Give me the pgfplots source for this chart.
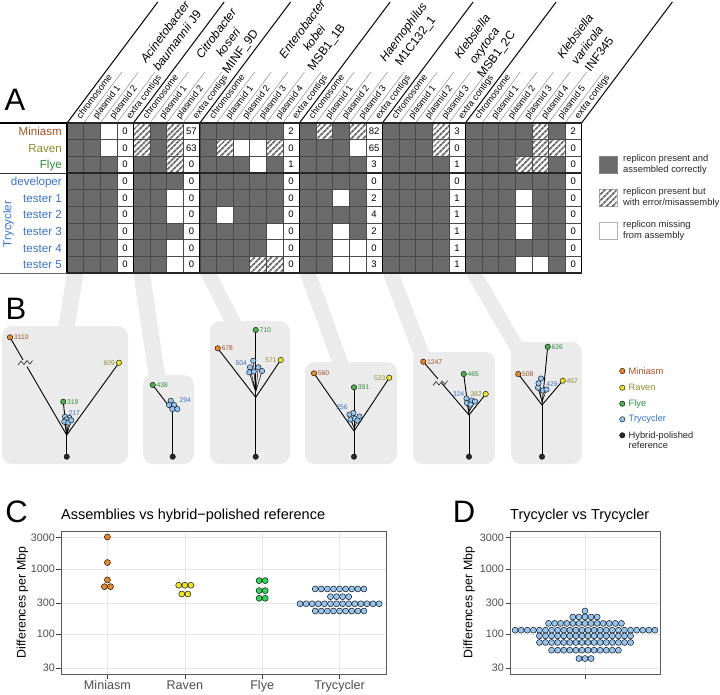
\documentclass[border=0pt]{standalone}
\usepackage{fontspec}
\setmainfont{Liberation Sans}
\usepackage{pgfplots}
\pgfplotsset{compat=1.18}
\usetikzlibrary{patterns.meta}

\definecolor{cellgray}{HTML}{6B6B6B}
\definecolor{gridline}{HTML}{4A4A4A}
\definecolor{boxgray}{HTML}{EBEBEB}
\definecolor{miniT}{HTML}{9C5226}
\definecolor{ravenT}{HTML}{8A8A2E}
\definecolor{flyeT}{HTML}{2E8B3E}
\definecolor{trycT}{HTML}{3B73C5}
\definecolor{miniD}{HTML}{E8872C}
\definecolor{ravenD}{HTML}{EDE430}
\definecolor{flyeD}{HTML}{4CAF50}
\definecolor{flyeC}{HTML}{2ED65A}
\definecolor{trycD}{HTML}{96C5F0}
\definecolor{refD}{HTML}{2B2B2B}
\definecolor{panelgrid}{HTML}{E6E6E6}
\definecolor{frame}{HTML}{5A5A5A}
\definecolor{ticklab}{HTML}{4D4D4D}

\newcommand\fs[1]{\fontsize{#1}{#1}\selectfont}
% white (missing) cell and hatched (error) cell of the grid
\newcommand\wc[4]{\addplot[fill=white, draw=none] coordinates {(#1,#3)(#2,#3)(#2,#4)(#1,#4)} -- cycle;}
\newcommand\hc[4]{\wc{#1}{#2}{#3}{#4}\addplot[draw=none, pattern={Lines[angle=45,distance=4pt,line width=2pt]}, pattern color=cellgray] coordinates {(#1,#3)(#2,#3)(#2,#4)(#1,#4)} -- cycle;}
% tree pieces
\newcommand\seg[4]{\addplot[black, line width=0.9pt] coordinates {(#1,#2)(#3,#4)};}
\newcommand\dts[2]{\addplot[only marks, mark=*, mark size=2.7pt, mark options={fill=#1, draw=black, line width=0.4pt}] coordinates {#2};}
\newcommand\tl[5]{\node[anchor=#1, text=#2, font=\fs{6.8}, inner sep=0.6pt] at (axis cs:#3,#4) {#5};}
\newcommand\cl[2]{\node[rotate=53.13, anchor=base west, font=\fs{9.1}, inner sep=1pt] at (axis cs:#1,120.4) {#2};}
\newcommand\rl[3]{\node[anchor=base east, text=#1, font=\fs{11.6}, inner sep=0pt] at (axis cs:62,#2) {#3};}
\newcommand\cpoints{\addplot[only marks, mark=*, mark size=3pt]}

\begin{document}
\begin{tikzpicture}
\useasboundingbox (0,0) rectangle (720pt,-694pt);

% ---------- everything drawn in pixel units ----------
\begin{axis}[at={(0pt,0pt)}, anchor=north west, scale only axis,
  width=720pt, height=694pt, xmin=0, xmax=720, ymin=0, ymax=694,
  y dir=reverse, hide axis, clip=false]

% bands from grid to trees
\addplot[fill=boxgray, draw=none] coordinates {(67,273)(83.6,273)(73.3,336)(56.7,336)} -- cycle;
\addplot[fill=boxgray, draw=none] coordinates {(133.4,273)(150,273)(166.5,385)(149.9,385)} -- cycle;
\addplot[fill=boxgray, draw=none] coordinates {(199.8,273)(216.4,273)(246,331)(229.4,331)} -- cycle;
\addplot[fill=boxgray, draw=none] coordinates {(299.4,273)(316,273)(352,372)(335.4,372)} -- cycle;
\addplot[fill=boxgray, draw=none] coordinates {(382.4,273)(399,273)(432.8,362)(416.2,362)} -- cycle;
\addplot[fill=boxgray, draw=none] coordinates {(465.4,273)(482,273)(527.8,352)(511.2,352)} -- cycle;

% tree boxes
\addplot[fill=boxgray, draw=none, rounded corners=10pt] coordinates {(2,326)(128,326)(128,464)(2,464)} -- cycle;
\addplot[fill=boxgray, draw=none, rounded corners=10pt] coordinates {(143,375)(194,375)(194,464)(143,464)} -- cycle;
\addplot[fill=boxgray, draw=none, rounded corners=10pt] coordinates {(210,321)(290,321)(290,464)(210,464)} -- cycle;
\addplot[fill=boxgray, draw=none, rounded corners=10pt] coordinates {(305,362)(397,362)(397,464)(305,464)} -- cycle;
\addplot[fill=boxgray, draw=none, rounded corners=10pt] coordinates {(413,352)(495,352)(495,464)(413,464)} -- cycle;
\addplot[fill=boxgray, draw=none, rounded corners=10pt] coordinates {(511,342)(582,342)(582,464)(511,464)} -- cycle;

% tree 1
\seg{66.7}{456.7}{66.7}{435}
\seg{66.7}{435}{119}{362.7}
\seg{66.7}{435}{27}{366.6}
\seg{23}{359.8}{10}{337.3}
\addplot[black, line width=0.5pt] coordinates {(18,365)(21,361)(24,364.5)(27,360.5)(30,364)(32.5,360.5)};
\seg{66.7}{435}{63.3}{401.7}
\addplot[black, line width=0.5pt] coordinates {(65,416.7)(66.7,435)(69.5,418)(66.7,435)(64.3,421.7)(66.7,435)(68.3,422.7)(66.7,435)(71.3,420.3)};
\dts{miniD}{(10,337.3)}
\dts{ravenD}{(119,362.7)}
\dts{flyeD}{(63.3,401.7)}
\dts{trycD}{(65,416.7)(69.5,418)(66.5,419.5)(64.3,421.7)(68.3,422.7)(71.3,420.3)}
\tl{west}{miniT}{13.3}{337.3}{3110}
\tl{east}{ravenT}{115.8}{362.7}{609}
\tl{west}{flyeT}{66.3}{401.7}{319}
\tl{west}{trycT}{67.8}{413.2}{217}

% tree 2
\seg{172.7}{456.7}{172.7}{411}
\seg{172.7}{411}{152.7}{385}
\addplot[black, line width=0.5pt] coordinates {(170.7,400.7)(172.7,411)(174,405)(172.7,411)(169,405)(172.7,411)(177.3,409)};
\dts{flyeD}{(152.7,385)}
\dts{trycD}{(170.7,400.7)(174,405)(169,405)(177.3,409)(172.3,409)}
\tl{west}{flyeT}{155.7}{385}{438}
\tl{west}{trycT}{178.7}{399.7}{294}

% tree 3
\seg{255.7}{456.7}{255.7}{397.3}
\seg{255.7}{397.3}{255.7}{330}
\seg{255.7}{397.3}{217.7}{348.3}
\seg{255.7}{397.3}{280.7}{360}
\addplot[black, line width=0.5pt] coordinates {(253.3,360.7)(255.7,392)(250,367.3)(255.7,392)(258.3,367.3)(255.7,392)(262,371)(255.7,392)(249.3,372.3)};
\dts{miniD}{(217.7,348.3)}
\dts{ravenD}{(280.7,360)}
\dts{flyeD}{(255.7,330)}
\dts{trycD}{(253.3,360.7)(250,367.3)(258.3,367.3)(253.7,371.5)(262,371)(249.3,372.3)}
\tl{west}{miniT}{220.7}{348.3}{678}
\tl{west}{flyeT}{258.7}{330}{710}
\tl{east}{trycT}{247.7}{362.7}{504}
\tl{east}{ravenT}{277.5}{360}{571}

% tree 4
\seg{354}{456.7}{354}{431}
\seg{354}{431}{314}{373.3}
\seg{354}{431}{389.3}{377.7}
\seg{354}{431}{354}{387.3}
\addplot[black, line width=0.5pt] coordinates {(349.5,414.5)(354,428)(350.5,419.5)(354,428)(359.5,416.5)(354,428)(357.5,420.5)};
\dts{miniD}{(314,373.3)}
\dts{ravenD}{(389.3,377.7)}
\dts{flyeD}{(354,387.3)}
\dts{trycD}{(349.5,414.5)(353.5,413)(350.5,419.5)(355,418.5)(359.5,416.5)(357.5,420.5)}
\tl{west}{miniT}{317}{373.3}{560}
\tl{east}{ravenT}{386.2}{377.7}{523}
\tl{west}{flyeT}{357}{387.3}{391}
\tl{east}{trycT}{348.5}{406.8}{256}

% tree 5
\seg{469}{456.7}{469}{415}
\seg{469}{415}{441.6}{383}
\seg{437.9}{378.8}{423.3}{361.7}
\addplot[black, line width=0.5pt] coordinates {(433,385.5)(436,381.5)(439,385)(442,381)(445,384.5)(447.5,380.5)};
\seg{469}{415}{463.7}{374}
\seg{469}{415}{485.7}{394}
\addplot[black, line width=0.5pt] coordinates {(466.5,398.5)(469,412)(471.5,400.5)(469,412)(475,401.5)(469,412)(467,403)};
\dts{miniD}{(423.3,361.7)}
\dts{ravenD}{(485.7,394)}
\dts{flyeD}{(463.7,374)}
\dts{trycD}{(466.5,398.5)(471.5,400.5)(467,403)(475,401.5)(470.5,404.5)}
\tl{west}{miniT}{426.3}{361.7}{1247}
\tl{west}{flyeT}{466.7}{374}{465}
\tl{east}{ravenT}{482.6}{394}{382}
\tl{east}{trycT}{465}{394}{324}

% tree 6
\seg{542}{456.7}{542}{405}
\seg{542}{405}{518.3}{374}
\seg{542}{405}{547.7}{346.7}
\seg{542}{405}{562.7}{380.7}
\addplot[black, line width=0.5pt] coordinates {(538.5,383.3)(542,402)(538,387.7)(542,402)(546.5,389.5)};
\dts{miniD}{(518.3,374)}
\dts{ravenD}{(562.7,380.7)}
\dts{flyeD}{(547.7,346.7)}
\dts{trycD}{(541,378.5)(538.5,383.3)(538,387.7)(543,390.5)(546.5,389.5)}
\tl{west}{miniT}{521.3}{374}{508}
\tl{west}{flyeT}{550.7}{346.7}{626}
\tl{west}{ravenT}{565.7}{380.7}{457}
\tl{west}{trycT}{545.5}{384}{429}

% reference roots
\dts{refD}{(66.7,456.7)(172.7,456.7)(255.7,456.7)(354,456.7)(469,456.7)(542,456.7)}

% legend B
\dts{miniD}{(622.3,371)}
\dts{ravenD}{(622.3,387.7)}
\dts{flyeD}{(622.3,403.7)}
\dts{trycD}{(622.3,419.3)}
\dts{refD}{(622.3,435.3)}
\node[anchor=west, text=miniT, font=\fs{9.3}, inner sep=0pt] at (axis cs:628.5,371) {Miniasm};
\node[anchor=west, text=ravenT, font=\fs{9.3}, inner sep=0pt] at (axis cs:628.5,387.7) {Raven};
\node[anchor=west, text=flyeT, font=\fs{9.3}, inner sep=0pt] at (axis cs:628.5,403.7) {Flye};
\node[anchor=west, text=trycT, font=\fs{9.3}, inner sep=0pt] at (axis cs:628.5,419.3) {Trycycler};
\node[anchor=north west, align=left, text=black!85, font=\fontsize{9.3}{10.3}\selectfont, inner sep=0pt] at (axis cs:628.5,431.5) {Hybrid-polished\\reference};

% header lines
\addplot[black, line width=1pt, unbounded coords=jump] coordinates {
 (67,123)(157.75,2) (nan,nan) (133.4,123)(224.15,2) (nan,nan) (199.8,123)(290.55,2) (nan,nan)
 (299.4,123)(390.15,2) (nan,nan) (382.4,123)(473.15,2) (nan,nan) (465.4,123)(556.15,2) (nan,nan)
 (581.6,123)(672.35,2)};
\addplot[black!45, line width=0.5pt, unbounded coords=jump] coordinates {
 (83.6,123)(121.85,72) (nan,nan) (100.2,123)(138.45,72) (nan,nan) (116.8,123)(155.05,72) (nan,nan)
 (150,123)(188.25,72) (nan,nan) (166.6,123)(204.85,72) (nan,nan) (183.2,123)(221.45,72) (nan,nan)
 (216.4,123)(254.65,72) (nan,nan) (233,123)(271.25,72) (nan,nan) (249.6,123)(287.85,72) (nan,nan)
 (266.2,123)(304.45,72) (nan,nan) (282.8,123)(321.05,72) (nan,nan)
 (316,123)(354.25,72) (nan,nan) (332.6,123)(370.85,72) (nan,nan) (349.2,123)(387.45,72) (nan,nan)
 (365.8,123)(404.05,72) (nan,nan)
 (399,123)(437.25,72) (nan,nan) (415.6,123)(453.85,72) (nan,nan) (432.2,123)(470.45,72) (nan,nan)
 (448.8,123)(487.05,72) (nan,nan)
 (482,123)(520.25,72) (nan,nan) (498.6,123)(536.85,72) (nan,nan) (515.2,123)(553.45,72) (nan,nan)
 (531.8,123)(570.05,72) (nan,nan) (548.4,123)(586.65,72) (nan,nan) (565,123)(603.25,72)};

% column labels
\cl{80.1}{chromosome}\cl{96.7}{plasmid 1}\cl{113.3}{plasmid 2}\cl{129.9}{extra contigs}
\cl{146.5}{chromosome}\cl{163.1}{plasmid 1}\cl{179.7}{plasmid 2}\cl{196.3}{extra contigs}
\cl{212.9}{chromosome}\cl{229.5}{plasmid 1}\cl{246.1}{plasmid 2}\cl{262.7}{plasmid 3}\cl{279.3}{plasmid 4}\cl{295.9}{extra contigs}
\cl{312.5}{chromosome}\cl{329.1}{plasmid 1}\cl{345.7}{plasmid 2}\cl{362.3}{plasmid 3}\cl{378.9}{extra contigs}
\cl{395.5}{chromosome}\cl{412.1}{plasmid 1}\cl{428.7}{plasmid 2}\cl{445.3}{plasmid 3}\cl{461.9}{extra contigs}
\cl{478.5}{chromosome}\cl{495.1}{plasmid 1}\cl{511.7}{plasmid 2}\cl{528.3}{plasmid 3}\cl{544.9}{plasmid 4}\cl{561.5}{plasmid 5}\cl{578.1}{extra contigs}

% genome names
\tikzset{gname/.style={rotate=53.13, align=center, font=\fontsize{12}{15}\selectfont, inner sep=0pt}}
\node[gname] at (axis cs:171,36) {\textit{Acinetobacter}\\\textit{baumannii} J9};
\node[gname] at (axis cs:229,43) {\textit{Citrobacter}\\\textit{koseri}\\MINF\_9D};
\node[gname] at (axis cs:315,38.5) {\textit{Enterobacter}\\\textit{kobei}\\MSB1\_1B};
\node[gname] at (axis cs:410,37) {\textit{Haemophilus}\\M1C132\_1};
\node[gname] at (axis cs:485,46) {\textit{Klebsiella}\\\textit{oxytoca}\\MSB1\_2C};
\node[gname] at (axis cs:587,45) {\textit{Klebsiella}\\\textit{variicola}\\INF345};

% row labels and separators
\addplot[black, line width=1.1pt] coordinates {(0,123)(67,123)};
\addplot[black!80, line width=1pt] coordinates {(0,173)(67,173)};
\addplot[black!60, line width=0.9pt] coordinates {(0,273)(67,273)};
\rl{miniT}{135.45}{Miniasm}
\rl{ravenT}{152.15}{Raven}
\rl{flyeT}{168.85}{Flye}
\rl{trycT}{185.45}{developer}
\rl{trycT}{202.15}{tester 1}
\rl{trycT}{218.85}{tester 2}
\rl{trycT}{235.45}{tester 3}
\rl{trycT}{252.15}{tester 4}
\rl{trycT}{268.85}{tester 5}
\node[rotate=90, text=trycT, font=\fs{11.6}, inner sep=0pt] at (axis cs:8.5,224) {Trycycler};

% legend A
\addplot[fill=cellgray, draw=black!50, line width=0.4pt] coordinates {(599.3,156)(616.7,156)(616.7,173.4)(599.3,173.4)} -- cycle;
\addplot[fill=white, draw=black!30, line width=0.4pt] coordinates {(599.3,189)(616.7,189)(616.7,206.4)(599.3,206.4)} -- cycle;
\addplot[draw=none, pattern={Lines[angle=45,distance=4pt,line width=2pt]}, pattern color=cellgray] coordinates {(599.3,189)(616.7,189)(616.7,206.4)(599.3,206.4)} -- cycle;
\addplot[fill=white, draw=black!30, line width=0.4pt] coordinates {(599.3,222)(616.7,222)(616.7,239.4)(599.3,239.4)} -- cycle;
\tikzset{legA/.style={anchor=west, align=left, font=\fontsize{9.4}{11}\selectfont, inner sep=0pt, text=black!85}}
\node[legA] at (axis cs:623,164.2) {replicon present and\\assembled correctly};
\node[legA] at (axis cs:623,197.2) {replicon present but\\with error/misassembly};
\node[legA] at (axis cs:623,230.2) {replicon missing\\from assembly};

% panel letters and titles
\tikzset{plet/.style={font=\fs{31}, inner sep=0pt}}
\node[plet] at (axis cs:15,100) {A};
\node[plet] at (axis cs:16,309) {B};
\node[plet] at (axis cs:16.5,512) {C};
\node[plet] at (axis cs:464,512) {D};
\node[anchor=base west, font=\fs{14.5}, inner sep=0pt] at (axis cs:61,519.7) {Assemblies vs hybrid−polished reference};
\node[anchor=base west, font=\fs{14.5}, inner sep=0pt] at (axis cs:510,519.7) {Trycycler vs Trycycler};
\node[rotate=90, font=\fs{12.4}, inner sep=0pt] at (axis cs:22.5,602.5) {Differences per Mbp};
\node[rotate=90, font=\fs{12.4}, inner sep=0pt] at (axis cs:469.2,602.5) {Differences per Mbp};
\end{axis}

% ---------- panel A grid ----------
\begin{axis}[at={(67pt,-123pt)}, anchor=north west, scale only axis,
  width=514.6pt, height=150pt, xmin=0, xmax=31, ymin=0, ymax=9, y dir=reverse,
  axis line style={draw=none}, major tick length=0pt,
  xtick={0,...,31}, ytick={0,...,9}, xticklabels={}, yticklabels={},
  grid=major, major grid style={draw=gridline, line width=0.45pt},
  extra x ticks={0,4,8,14,19,24,31}, extra x tick labels={},
  extra x tick style={major grid style={draw=black, line width=1.1pt}},
  extra y ticks={0,3,9}, extra y tick labels={},
  extra y tick style={major grid style={draw=black!85, line width=1.1pt}},
  axis on top, clip=false]
\addplot[fill=cellgray, draw=none] coordinates {(0,0)(31,0)(31,9)(0,9)} -- cycle;
% extra-contig columns
\wc{3}{4}{0}{9}\wc{7}{8}{0}{9}\wc{13}{14}{0}{9}\wc{18}{19}{0}{9}\wc{23}{24}{0}{9}\wc{30}{31}{0}{9}
% missing replicons
\wc{2}{3}{0}{1}
\wc{2}{3}{1}{2}\wc{10}{11}{1}{2}\wc{11}{12}{1}{2}\wc{17}{18}{1}{2}
\wc{11}{12}{2}{3}
\wc{6}{7}{4}{5}\wc{16}{17}{4}{5}\wc{27}{28}{4}{5}
\wc{6}{7}{5}{6}\wc{9}{10}{5}{6}\wc{27}{28}{5}{6}
\wc{12}{13}{6}{7}\wc{16}{17}{6}{7}\wc{27}{28}{6}{7}
\wc{6}{7}{7}{8}\wc{12}{13}{7}{8}\wc{16}{17}{7}{8}\wc{17}{18}{7}{8}
\wc{6}{7}{8}{9}\wc{16}{17}{8}{9}\wc{17}{18}{8}{9}\wc{27}{28}{8}{9}\wc{28}{29}{8}{9}
% replicons with errors (hatched)
\hc{4}{5}{0}{1}\hc{6}{7}{0}{1}\hc{15}{16}{0}{1}\hc{17}{18}{0}{1}\hc{22}{23}{0}{1}\hc{28}{29}{0}{1}
\hc{4}{5}{1}{2}\hc{6}{7}{1}{2}\hc{9}{10}{1}{2}\hc{12}{13}{1}{2}\hc{22}{23}{1}{2}\hc{28}{29}{1}{2}\hc{29}{30}{1}{2}
\hc{6}{7}{2}{3}\hc{27}{28}{2}{3}\hc{28}{29}{2}{3}
\hc{11}{12}{8}{9}\hc{12}{13}{8}{9}
% extra contig counts
\tikzset{cnt/.style={align=center, font=\fontsize{9.5}{16.667}\selectfont, inner sep=0pt}}
\node[cnt] at (axis cs:3.5,4.5) {0\\0\\0\\0\\0\\0\\0\\0\\0};
\node[cnt] at (axis cs:7.5,4.5) {57\\63\\0\\0\\0\\0\\0\\0\\0};
\node[cnt] at (axis cs:13.5,4.5) {2\\0\\1\\0\\0\\0\\0\\0\\0};
\node[cnt] at (axis cs:18.5,4.5) {82\\65\\3\\0\\2\\4\\2\\0\\3};
\node[cnt] at (axis cs:23.5,4.5) {3\\0\\1\\0\\1\\1\\1\\1\\1};
\node[cnt] at (axis cs:30.5,4.5) {2\\0\\0\\0\\0\\0\\0\\0\\0};
\end{axis}

% ---------- panel C ----------
\begin{axis}[at={(61pt,-531pt)}, anchor=north west, scale only axis,
  width=325pt, height=143pt,
  ymode=log, ymin=24.5, ymax=3800,
  xmin=0.4, xmax=4.6, xtick={1,2,3,4}, xticklabels={Miniasm,Raven,Flye,Trycycler},
  ytick={30,100,300,1000,3000}, yticklabels={30,100,300,1000,3000},
  yminorticks=false, xminorticks=false,
  grid=major, major grid style={draw=panelgrid, line width=0.6pt},
  axis line style={draw=frame, line width=0.6pt},
  tick style={draw=black!75, line width=0.6pt}, major tick length=4.5pt,
  tick align=outside, tick pos=left,
  yticklabel style={font=\fs{10.8}, text=ticklab, inner sep=1.5pt},
  xticklabel style={font=\fs{12.6}, text=ticklab, inner sep=2pt},
  clip=false]
\cpoints[mark options={fill=miniD, draw=black, line width=0.45pt}] coordinates {
 (1,3076)(1,1250)(1,677)(0.9607,534)(1.0393,534)};
\cpoints[mark options={fill=ravenD, draw=black, line width=0.45pt}] coordinates {
 (1.9214,561)(2,561)(2.0786,561)(1.9607,412)(2.0393,412)};
\cpoints[mark options={fill=flyeC, draw=black, line width=0.45pt}] coordinates {
 (2.9607,661)(3.0393,661)(2.9607,464)(3.0393,464)(2.9607,354)(3.0393,354)};
\cpoints[mark options={fill=trycD, draw=black, line width=0.45pt}] coordinates {
 (3.6856,492)(3.7642,492)(3.8428,492)(3.9214,492)(4,492)(4.0786,492)(4.1572,492)(4.2358,492)(4.3144,492)
 (3.8821,375)(3.9607,375)(4.0393,375)(4.1179,375)
 (3.4891,292)(3.5677,292)(3.6463,292)(3.7249,292)(3.8035,292)(3.8821,292)(3.9607,292)
 (4.0393,292)(4.1179,292)(4.1965,292)(4.2751,292)(4.3537,292)(4.4323,292)(4.5109,292)
 (3.6856,226)(3.7642,226)(3.8428,226)(3.9214,226)(4,226)(4.0786,226)(4.1572,226)(4.2358,226)(4.3144,226)};
\end{axis}

% ---------- panel D ----------
\begin{axis}[at={(510pt,-531pt)}, anchor=north west, scale only axis,
  width=150pt, height=143pt,
  ymode=log, ymin=24.5, ymax=3800,
  xmin=0.4, xmax=1.6, xtick={1}, xticklabels={},
  ytick={30,100,300,1000,3000}, yticklabels={30,100,300,1000,3000},
  yminorticks=false, xminorticks=false,
  grid=major, major grid style={draw=panelgrid, line width=0.6pt},
  axis line style={draw=frame, line width=0.6pt},
  tick style={draw=black!75, line width=0.6pt}, major tick length=4.5pt,
  tick align=outside, tick pos=left,
  yticklabel style={font=\fs{10.8}, text=ticklab, inner sep=1.5pt},
  clip=false]
\cpoints[mark options={fill=trycD, draw=black, line width=0.45pt}] coordinates {
 (1,226)
 (0.9028,183)(0.9514,183)(1,183)(1.0486,183)(1.0972,183)
 (0.7084,146)(0.757,146)(0.8056,146)(0.8542,146)(0.9028,146)(0.9514,146)(1,146)
 (1.0486,146)(1.0972,146)(1.1458,146)(1.1944,146)(1.243,146)(1.2916,146)
 (0.4411,115)(0.4897,115)(0.5383,115)(0.5869,115)(0.6355,115)(0.6841,115)(0.7327,115)(0.7813,115)
 (0.8299,115)(0.8785,115)(0.9271,115)(0.9757,115)(1.0243,115)(1.0729,115)(1.1215,115)(1.1701,115)
 (1.2187,115)(1.2673,115)(1.3159,115)(1.3645,115)(1.4131,115)(1.4617,115)(1.5103,115)(1.5589,115)
 (0.6355,94)(0.6841,94)(0.7327,94)(0.7813,94)(0.8299,94)(0.8785,94)(0.9271,94)(0.9757,94)
 (1.0243,94)(1.0729,94)(1.1215,94)(1.1701,94)(1.2187,94)(1.2673,94)(1.3159,94)(1.3645,94)
 (0.6355,74.5)(0.6841,74.5)(0.7327,74.5)(0.7813,74.5)(0.8299,74.5)(0.8785,74.5)(0.9271,74.5)(0.9757,74.5)
 (1.0243,74.5)(1.0729,74.5)(1.1215,74.5)(1.1701,74.5)(1.2187,74.5)(1.2673,74.5)(1.3159,74.5)(1.3645,74.5)
 (0.7327,56.7)(0.7813,56.7)(0.8299,56.7)(0.8785,56.7)(0.9271,56.7)(0.9757,56.7)
 (1.0243,56.7)(1.0729,56.7)(1.1215,56.7)(1.1701,56.7)(1.2187,56.7)(1.2673,56.7)
 (0.9514,42.3)(1,42.3)(1.0486,42.3)};
\end{axis}
\end{tikzpicture}
\end{document}
